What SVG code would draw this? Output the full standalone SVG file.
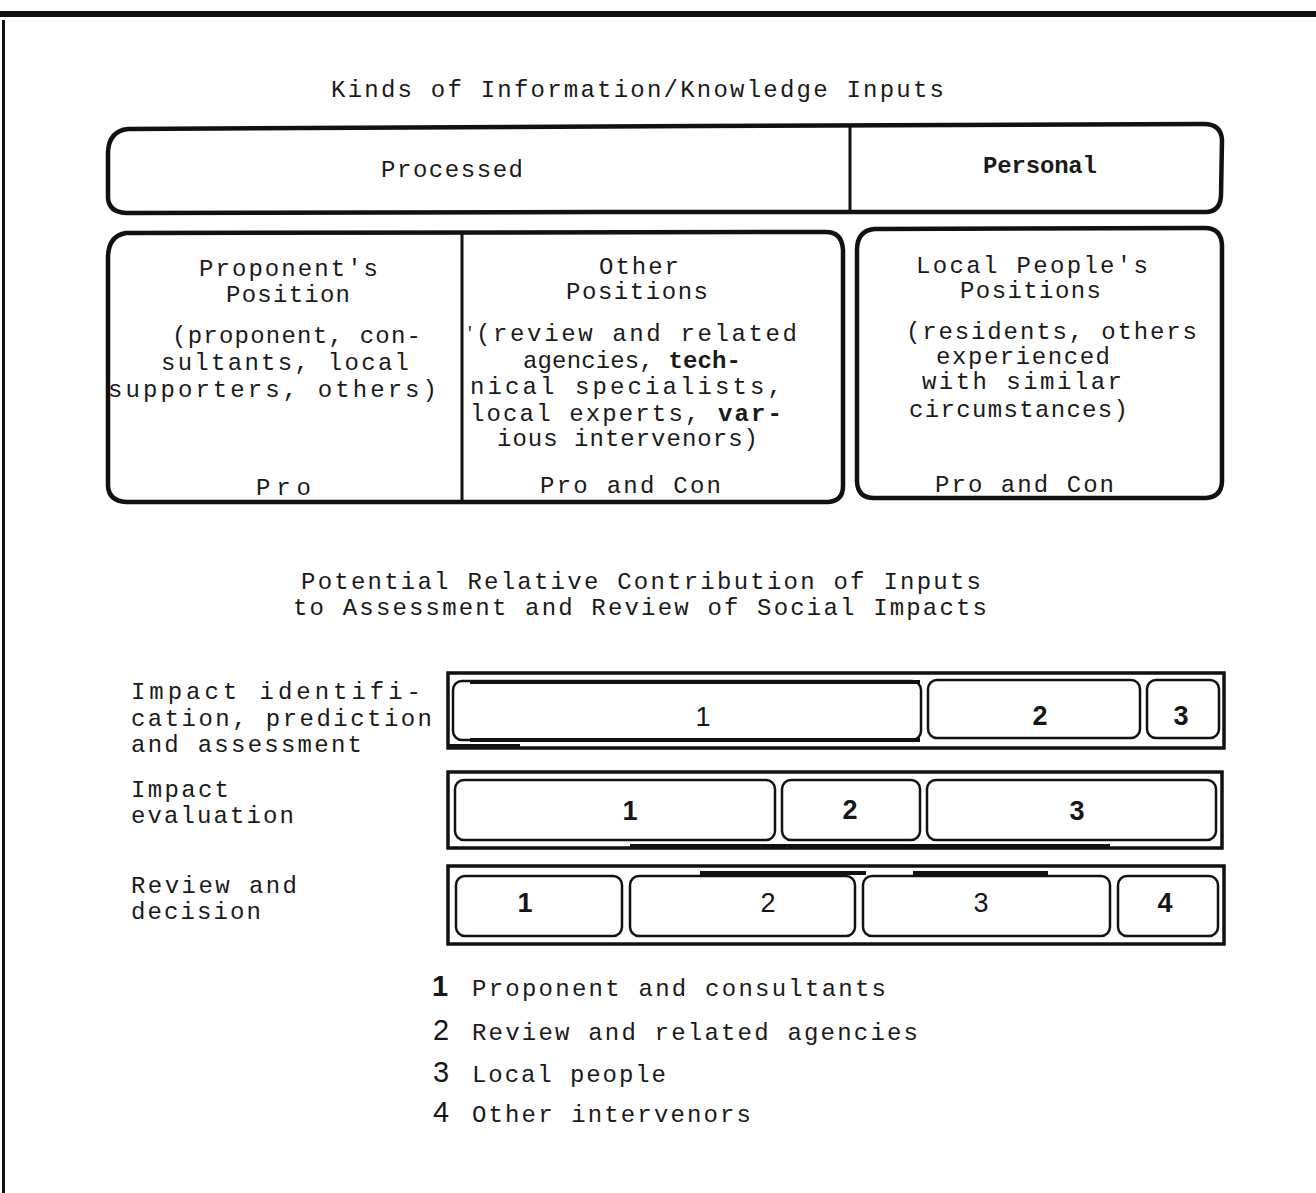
<svg xmlns="http://www.w3.org/2000/svg" width="1316" height="1193" viewBox="0 0 1316 1193">
<style>
.t{font-family:"Liberation Mono","Courier New",monospace;font-size:24px;fill:#1a1a1a}
.b{font-weight:bold}
.d{font-family:"Liberation Sans",Arial,sans-serif;font-size:27px;fill:#151515;text-anchor:middle}
.lg{font-size:29px}
.db{font-weight:bold}
.box{fill:none;stroke:#111;stroke-width:4.5;stroke-linejoin:round}
.outer{fill:none;stroke:#111;stroke-width:3.5}
.cell{fill:none;stroke:#111;stroke-width:2.5}
.art{stroke:#111;stroke-width:4;fill:none}
</style>
<rect x="0" y="11" width="1316" height="6" fill="#111"/>
<line x1="3.5" y1="20" x2="3.5" y2="1193" stroke="#111" stroke-width="3"/>

<g id="title">
<text class="t" x="331" y="97" textLength="613" lengthAdjust="spacing">Kinds of Information/Knowledge Inputs</text>
</g>

<g id="top-box">
<path class="box" d="M128 129 Q109 131 108 152 L108 198 Q109 212 126 213 L600 212 L1207 212 Q1220 211 1221 196 L1222 140 Q1221 124 1204 124 L700 126 Z"/>
<line x1="850" y1="126" x2="850" y2="213" stroke="#111" stroke-width="3"/>
<text class="t" x="381" y="177" textLength="142" lengthAdjust="spacing">Processed</text>
<text class="t b" x="983" y="173" textLength="114" lengthAdjust="spacing">Personal</text>
</g>

<g id="processed-box">
<path class="box" d="M126 233 Q108 236 108 258 L108 486 Q109 501 126 502 L828 502 Q843 501 843 486 L843 250 Q842 232 826 232 Z"/>
<line x1="462" y1="233" x2="462" y2="503" stroke="#111" stroke-width="3"/>
<text class="t" x="199" y="276" textLength="179" lengthAdjust="spacing">Proponent's</text>
<text class="t" x="226" y="302" textLength="124" lengthAdjust="spacing">Position</text>
<text class="t" x="172" y="343" textLength="249" lengthAdjust="spacing">(proponent, con-</text>
<text class="t" x="161" y="370" textLength="248" lengthAdjust="spacing">sultants, local</text>
<text class="t" x="108" y="397" textLength="329" lengthAdjust="spacing">supporters, others)</text>
<text class="t" x="256" y="495" textLength="55" lengthAdjust="spacing">Pro</text>
<text class="t" x="465" y="338" style="font-size:16px">'</text>
<text class="t" x="599" y="274" textLength="80" lengthAdjust="spacing">Other</text>
<text class="t" x="566" y="299" textLength="142" lengthAdjust="spacing">Positions</text>
<text class="t" x="476" y="341" textLength="321" lengthAdjust="spacing">(review and related</text>
<text class="t" x="523" y="368" textLength="218" lengthAdjust="spacing">agencies, <tspan class="b">tech-</tspan></text>
<text class="t" x="470" y="394" textLength="312" lengthAdjust="spacing">nical specialists,</text>
<text class="t" x="470" y="421" textLength="312" lengthAdjust="spacing">local experts, <tspan class="b">var-</tspan></text>
<text class="t" x="497" y="446" textLength="261" lengthAdjust="spacing">ious intervenors)</text>
<text class="t" x="540" y="493" textLength="181" lengthAdjust="spacing">Pro and Con</text>
</g>

<g id="personal-box">
<path class="box" d="M874 229 Q857 231 857 250 L857 482 Q858 498 874 498 L1206 498 Q1221 497 1222 482 L1222 245 Q1221 228 1205 228 Z"/>
<text class="t" x="916" y="273" textLength="232" lengthAdjust="spacing">Local People's</text>
<text class="t" x="960" y="298" textLength="141" lengthAdjust="spacing">Positions</text>
<text class="t" x="906" y="339" textLength="291" lengthAdjust="spacing">(residents, others</text>
<text class="t" x="936" y="364" textLength="174" lengthAdjust="spacing">experienced</text>
<text class="t" x="922" y="389" textLength="200" lengthAdjust="spacing">with similar</text>
<text class="t" x="909" y="417" textLength="219" lengthAdjust="spacing">circumstances)</text>
<text class="t" x="935" y="492" textLength="179" lengthAdjust="spacing">Pro and Con</text>
</g>

<g id="subtitle">
<text class="t" x="301" y="589" textLength="680" lengthAdjust="spacing">Potential Relative Contribution of Inputs</text>
<text class="t" x="293" y="615" textLength="694" lengthAdjust="spacing">to Assessment and Review of Social Impacts</text>
</g>

<g id="row-labels">
<text class="t" x="131" y="699" textLength="290" lengthAdjust="spacing">Impact identifi-</text>
<text class="t" x="131" y="726" textLength="301" lengthAdjust="spacing">cation, prediction</text>
<text class="t" x="131" y="752" textLength="231" lengthAdjust="spacing">and assessment</text>
<text class="t" x="131" y="797" textLength="98" lengthAdjust="spacing">Impact</text>
<text class="t" x="131" y="823" textLength="163" lengthAdjust="spacing">evaluation</text>
<text class="t" x="131" y="893" textLength="166" lengthAdjust="spacing">Review and</text>
<text class="t" x="131" y="919" textLength="130" lengthAdjust="spacing">decision</text>
</g>

<g id="bar-identification">
<rect class="outer" x="448" y="673" width="776" height="75"/>
<rect class="cell" x="453" y="681" width="468" height="59" rx="9"/>
<rect class="cell" x="928" y="680" width="212" height="58" rx="9"/>
<rect class="cell" x="1147" y="680" width="72" height="58" rx="9"/>
<line class="art" x1="448" y1="746" x2="520" y2="746"/>
<line class="art" x1="470" y1="682" x2="920" y2="682"/>
<line class="art" x1="470" y1="740" x2="920" y2="740"/>
<text class="d" x="703" y="726">1</text>
<text class="d db" x="1040" y="725">2</text>
<text class="d db" x="1181" y="725">3</text>
</g>

<g id="bar-evaluation">
<rect class="outer" x="448" y="772" width="774" height="76"/>
<rect class="cell" x="455" y="780" width="320" height="60" rx="9"/>
<rect class="cell" x="782" y="780" width="138" height="60" rx="9"/>
<rect class="cell" x="927" y="780" width="289" height="60" rx="9"/>
<line class="art" x1="630" y1="846" x2="1110" y2="846"/>
<text class="d db" x="630" y="820">1</text>
<text class="d db" x="850" y="819">2</text>
<text class="d db" x="1077" y="820">3</text>
</g>

<g id="bar-review">
<rect class="outer" x="448" y="866" width="776" height="78"/>
<rect class="cell" x="456" y="876" width="166" height="60" rx="9"/>
<rect class="cell" x="630" y="876" width="225" height="60" rx="9"/>
<rect class="cell" x="863" y="876" width="247" height="60" rx="9"/>
<rect class="cell" x="1118" y="876" width="100" height="60" rx="9"/>
<line class="art" x1="700" y1="873" x2="866" y2="873"/>
<line class="art" x1="913" y1="873" x2="1048" y2="873"/>
<text class="d db" x="525" y="912">1</text>
<text class="d" x="768" y="912">2</text>
<text class="d" x="981" y="912">3</text>
<text class="d db" x="1165" y="912">4</text>
</g>

<g id="legend">
<text class="d db lg" x="440" y="996">1</text>
<text class="t" x="472" y="996" textLength="414" lengthAdjust="spacing">Proponent and consultants</text>
<text class="d lg" x="441" y="1040">2</text>
<text class="t" x="472" y="1040" textLength="446" lengthAdjust="spacing">Review and related agencies</text>
<text class="d lg" x="441" y="1082">3</text>
<text class="t" x="472" y="1082" textLength="194" lengthAdjust="spacing">Local people</text>
<text class="d lg" x="441" y="1122">4</text>
<text class="t" x="472" y="1122" textLength="279" lengthAdjust="spacing">Other intervenors</text>
</g>
<g id="connectors"></g>
</svg>
